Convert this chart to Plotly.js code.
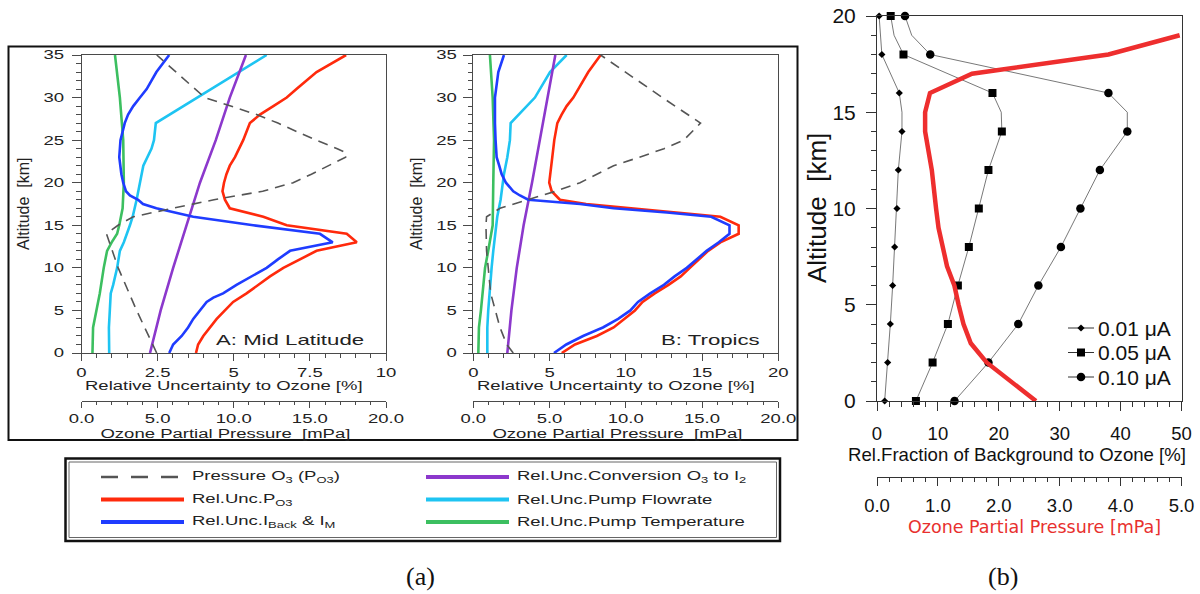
<!DOCTYPE html>
<html>
<head>
<meta charset="utf-8">
<script src="https://cdn.plot.ly/plotly-3.0.1.min.js"></script>
<style>
  html, body { margin: 0; padding: 0; background: #fff; }
  #chart { width: 1200px; height: 594px; }
</style>
</head>
<body>
<div id="chart"></div>
<script>
// ---------- Panel A: Mid Latitude ----------
const midPressureAlt = [0, 5, 10, 13, 14, 15, 16, 17, 18, 19, 20, 21, 22, 23, 23.5, 24, 25, 27, 28, 30, 35];
const midPressure    = [4.94, 3.62, 2.41, 1.86, 1.64, 2.4, 3.4, 6.0, 8.7, 11.9, 13.9, 15.1, 16.2, 17.35, 17.4, 16.8, 15.4, 12.9, 11.5, 8.1, 4.94]; // mPa

const midPo3Alt = [0, 1, 2, 3, 4, 5, 6, 7, 8, 9, 10, 11, 12, 13, 14, 15, 16, 17, 17.3, 18, 19, 20, 21, 22, 23, 25, 27, 28, 29, 30, 31, 33, 35];
const midPo3    = [3.76, 3.83, 4.0, 4.22, 4.44, 4.71, 4.98, 5.42, 5.8, 6.19, 6.63, 7.17, 7.72, 9.04, 8.71, 6.74, 5.97, 4.87, 4.82, 4.71, 4.63, 4.68, 4.76, 4.87, 5.04, 5.31, 5.53, 5.86, 6.3, 6.74, 7.06, 7.72, 8.69];

const midBackAlt = [0, 1, 2, 3, 4, 5, 6, 6.5, 7, 8, 9, 10, 11, 12, 13, 14, 15, 16, 17, 17.5, 18, 18.5, 19, 20, 21, 23, 25, 27, 28, 29, 30, 31, 33, 35];
const midBack    = [2.88, 3.01, 3.29, 3.5, 3.67, 3.89, 4.11, 4.33, 4.65, 5.09, 5.59, 6.08, 6.45, 6.85, 8.25, 7.83, 5.64, 3.67, 2.46, 2.02, 1.86, 1.59, 1.46, 1.37, 1.31, 1.24, 1.28, 1.42, 1.53, 1.7, 1.92, 2.14, 2.46, 2.88];

const midConvAlt = [0, 5, 10, 15, 20, 25, 30, 35];
const midConv    = [2.25, 2.6, 3.01, 3.45, 3.89, 4.41, 4.87, 5.40];

const midFlowAlt = [0, 3, 5, 7, 8, 10, 12, 13, 15, 16, 18, 20, 22, 24, 25, 27, 35];
const midFlow    = [0.91, 0.9, 0.93, 0.96, 1.04, 1.17, 1.26, 1.39, 1.59, 1.68, 1.81, 1.92, 2.03, 2.3, 2.38, 2.44, 6.08];

const midTempAlt = [0, 3, 5, 7, 10, 12, 13, 14, 15, 17, 20, 25, 30, 35];
const midTemp    = [0.36, 0.38, 0.49, 0.6, 0.73, 0.84, 0.99, 1.17, 1.24, 1.35, 1.39, 1.37, 1.26, 1.10];

// ---------- Panel B: Tropics ----------
const tropPressureAlt = [0, 1, 3, 5, 7, 10, 12, 15, 16, 17, 18, 19, 20, 22, 23, 24, 25, 27, 30, 35];
const tropPressure    = [2.62, 2.19, 1.75, 1.42, 1.14, 0.98, 0.87, 0.83, 0.87, 1.75, 3.6, 5.4, 7.0, 9.2, 10.9, 12.5, 13.8, 14.9, 12.4, 8.35]; // mPa

const tropPo3Alt = [0, 1, 2, 3, 4, 5, 6, 7, 8, 9, 10, 12, 13, 14, 15, 16, 16.5, 17, 17.5, 18, 18.2, 19, 20, 21, 23, 25, 27, 28, 29, 30, 31, 33, 35];
const tropPo3    = [5.8, 6.67, 8.1, 9.2, 9.9, 10.6, 11.1, 11.9, 12.8, 13.6, 14.2, 15.4, 16.2, 17.4, 17.4, 16.2, 13.3, 10.1, 7.4, 5.68, 5.57, 5.14, 4.98, 5.03, 5.18, 5.31, 5.51, 5.79, 6.12, 6.56, 6.89, 7.54, 8.35];

const tropBackAlt = [0, 1, 2, 3, 4, 5, 6, 7, 8, 9, 10, 12, 13, 14, 15, 16, 16.5, 17, 17.5, 18, 18.5, 19, 20, 21, 22, 23, 25, 27, 30, 31, 33, 35];
const tropBack    = [5.29, 6.1, 7.2, 8.5, 9.5, 10.3, 10.8, 11.6, 12.5, 13.2, 14.0, 15.3, 16.1, 16.8, 16.8, 15.6, 12.7, 9.2, 7.0, 3.6, 3.06, 2.62, 2.14, 1.86, 1.7, 1.53, 1.46, 1.42, 1.42, 1.49, 1.64, 2.01];

const tropConvAlt = [0, 5, 10, 15, 20, 25, 30, 35];
const tropConv    = [2.23, 2.5, 2.85, 3.3, 3.85, 4.35, 4.85, 5.38];

const tropFlowAlt = [0, 3, 5, 7, 10, 12, 15, 16, 18, 20, 21, 23, 25, 27, 30, 33, 35];
const tropFlow    = [0.92, 0.92, 0.98, 1.05, 1.2, 1.31, 1.49, 1.57, 1.79, 1.92, 2.01, 2.23, 2.4, 2.45, 4.04, 5.03, 6.12];

const tropTempAlt = [0, 3, 5, 10, 12, 15, 20, 25, 30, 35];
const tropTemp    = [0.33, 0.37, 0.5, 0.77, 0.98, 1.27, 1.31, 1.36, 1.27, 1.09];

// ---------- Panel (b): background current fraction ----------
const bgAlt01 = [0, 2, 4, 6, 8, 10, 12, 14, 15, 16, 18, 20];
const bg01    = [1.26, 1.75, 2.19, 2.57, 2.9, 3.28, 3.5, 4.1, 4.1, 3.66, 0.8, 0.35];
const bgAlt05 = [0, 2, 4, 6, 8, 10, 12, 14, 15, 16, 18, 19, 20];
const bg05    = [6.39, 9.13, 11.64, 13.28, 15.08, 16.72, 18.3, 20.5, 20.4, 18.96, 4.35, 2.8, 2.25];
const bgAlt10 = [0, 2, 4, 6, 8, 10, 12, 14, 15, 16, 18, 19, 20];
const bg10    = [12.73, 18.3, 23.2, 26.5, 30.2, 33.4, 36.6, 41.1, 41.1, 38.0, 8.74, 5.7, 4.6];
const bgLabels = ['0.01 μA', '0.05 μA', '0.10 μA'];

const ozoneAlt = [0, 1, 2, 3, 4, 5, 6, 7, 8, 9, 10, 12, 14, 15, 16, 17, 18, 19];
const ozone    = [2.61, 2.2, 1.80, 1.54, 1.42, 1.34, 1.27, 1.15, 1.08, 1.01, 0.97, 0.90, 0.79, 0.79, 0.87, 1.56, 3.80, 4.97]; // mPa

// ---------- styling ----------
const W = 1200, H = 594;
const px = x => x / W;
const py = y => 1 - y / H;
const FA = 'Liberation Sans, Arial, sans-serif';
const FR = 'DejaVu Sans, Verdana, sans-serif';
const FS = 'Liberation Serif, Times New Roman, serif';
const WIDEN = 1.48;   // horizontal stretch of the left figure's lettering

const C = {
  pressure: '#555555',
  po3: '#ff2a0c',
  back: '#1f3cff',
  conv: '#8c38cc',
  flow: '#1ec4f2',
  temp: '#3cbf60'
};

const names = {
  pressure: 'Pressure O<sub>3</sub> (P<sub>O3</sub>)',
  po3: 'Rel.Unc.P<sub>O3</sub>',
  back: 'Rel.Unc.I<sub>Back</sub> &amp; I<sub>M</sub>',
  conv: 'Rel.Unc.Conversion O<sub>3</sub> to I<sub>2</sub>',
  flow: 'Rel.Unc.Pump Flowrate',
  temp: 'Rel.Unc.Pump Temperature'
};

function curve(x, y, xa, ya, key) {
  const dashed = key === 'pressure';
  return {
    type: 'scatter', mode: 'lines', x: x, y: y, xaxis: xa, yaxis: ya,
    name: names[key], showlegend: false, hoverinfo: 'skip',
    line: { color: C[key], width: dashed ? 1.6 : 2.6, dash: dashed ? '10px,7px' : 'solid' }
  };
}

const traces = [
  curve(midTemp, midTempAlt, 'x', 'y', 'temp'),
  curve(midFlow, midFlowAlt, 'x', 'y', 'flow'),
  curve(midConv, midConvAlt, 'x', 'y', 'conv'),
  curve(midBack, midBackAlt, 'x', 'y', 'back'),
  curve(midPo3, midPo3Alt, 'x', 'y', 'po3'),
  curve(midPressure, midPressureAlt, 'x2', 'y', 'pressure'),

  curve(tropTemp, tropTempAlt, 'x3', 'y2', 'temp'),
  curve(tropFlow, tropFlowAlt, 'x3', 'y2', 'flow'),
  curve(tropConv, tropConvAlt, 'x3', 'y2', 'conv'),
  curve(tropPo3, tropPo3Alt, 'x3', 'y2', 'po3'),
  curve(tropBack, tropBackAlt, 'x3', 'y2', 'back'),
  curve(tropPressure, tropPressureAlt, 'x4', 'y2', 'pressure')
];

// background series: markers only on the even-kilometre levels
const bgSeries = [
  { x: bg01, y: bgAlt01, symbol: 'diamond', size: 5.5 },
  { x: bg05, y: bgAlt05, symbol: 'square', size: 8 },
  { x: bg10, y: bgAlt10, symbol: 'circle', size: 8.5 }
];
bgSeries.forEach((s, i) => {
  traces.push({
    type: 'scatter', mode: 'lines+markers', x: s.x, y: s.y, xaxis: 'x5', yaxis: 'y3',
    name: bgLabels[i], showlegend: false, hoverinfo: 'skip', cliponaxis: false,
    line: { color: '#555', width: 0.8 },
    marker: {
      symbol: s.symbol, size: s.size,
      color: s.y.map(a => (a % 2 === 0 ? '#000' : 'rgba(0,0,0,0)'))
    }
  });
});
traces.push({
  type: 'scatter', mode: 'lines', x: ozone, y: ozoneAlt, xaxis: 'x6', yaxis: 'y3',
  name: 'Ozone Partial Pressure', showlegend: false, hoverinfo: 'skip',
  line: { color: '#ee2e2e', width: 4.5 }
});

// ---------- axes ----------
function axis(opts) {
  return Object.assign({
    showline: true, linecolor: '#4a4a4a', linewidth: 1,
    ticks: 'outside', tickcolor: '#4a4a4a', tickwidth: 1,
    showgrid: false, zeroline: false, fixedrange: true, automargin: false
  }, opts);
}
const tickA = { family: FA, size: 12.5, color: '#222' };
const yDomAB = [py(353), py(55)];

const layout = {
  width: W, height: H,
  margin: { l: 0, r: 0, t: 0, b: 0 },
  paper_bgcolor: '#fff', plot_bgcolor: 'rgba(0,0,0,0)',
  showlegend: false,

  xaxis: axis({ domain: [px(81.5), px(386)], anchor: 'y', range: [0, 10], dtick: 2.5, tick0: 0,
    ticklen: 7, mirror: true, tickfont: tickA, ticklabelstandoff: 1,
    minor: { dtick: 0.5, ticklen: 3.5, ticks: 'outside', tickcolor: '#4a4a4a' } }),
  xaxis2: axis({ overlaying: 'x', anchor: 'free', position: py(401), side: 'bottom', range: [0, 20],
    dtick: 5, tick0: 0, tickformat: '.1f', ticklen: 6, tickfont: tickA, ticklabelstandoff: 0,
    minor: { dtick: 1, ticklen: 3, ticks: 'outside', tickcolor: '#4a4a4a' } }),
  yaxis: axis({ domain: yDomAB, anchor: 'x', range: [0, 35], dtick: 5, tick0: 0, ticklen: 9,
    mirror: true, tickfont: tickA, ticklabelstandoff: 5,
    minor: { dtick: 1, ticklen: 4.5, ticks: 'outside', tickcolor: '#4a4a4a' } }),

  xaxis3: axis({ domain: [px(473.3), px(778.3)], anchor: 'y2', range: [0, 20], dtick: 5, tick0: 0,
    ticklen: 7, mirror: true, tickfont: tickA, ticklabelstandoff: 1,
    minor: { dtick: 1, ticklen: 3.5, ticks: 'outside', tickcolor: '#4a4a4a' } }),
  xaxis4: axis({ overlaying: 'x3', anchor: 'free', position: py(401), side: 'bottom', range: [0, 20],
    dtick: 5, tick0: 0, tickformat: '.1f', ticklen: 6, tickfont: tickA, ticklabelstandoff: 0,
    minor: { dtick: 1, ticklen: 3, ticks: 'outside', tickcolor: '#4a4a4a' } }),
  yaxis2: axis({ domain: yDomAB, anchor: 'x3', range: [0, 35], dtick: 5, tick0: 0, ticklen: 9,
    mirror: true, tickfont: tickA, ticklabelstandoff: 4,
    minor: { dtick: 1, ticklen: 4.5, ticks: 'outside', tickcolor: '#4a4a4a' } }),

  xaxis5: axis({ domain: [px(877), px(1181.5)], anchor: 'y3', range: [0, 50], dtick: 10, tick0: 0,
    ticklen: 9, mirror: true, linecolor: '#333', tickcolor: '#333',
    tickfont: { family: FA, size: 18.5, color: '#111' }, ticklabelstandoff: 7,
    minor: { dtick: 2, ticklen: 4.5, ticks: 'outside', tickcolor: '#333' } }),
  xaxis6: axis({ overlaying: 'x5', anchor: 'free', position: py(477), side: 'bottom', range: [0, 5],
    dtick: 1, tick0: 0, tickformat: '.1f', ticklen: 8, linecolor: '#333', tickcolor: '#333',
    tickfont: { family: FA, size: 18.5, color: '#111' }, ticklabelstandoff: 4,
    minor: { dtick: 0.2, ticklen: 4, ticks: 'outside', tickcolor: '#333' } }),
  yaxis3: axis({ domain: [py(401), py(16)], anchor: 'x5', range: [0, 20], dtick: 5, tick0: 0,
    ticklen: 10, mirror: true, linecolor: '#333', tickcolor: '#333',
    tickfont: { family: FA, size: 21, color: '#111' }, ticklabelstandoff: 6,
    minor: { dtick: 1, ticklen: 5, ticks: 'outside', tickcolor: '#333' } }),

  annotations: [],
  shapes: []
};

function label(text, x, y, font, extra) {
  layout.annotations.push(Object.assign({
    text: text, xref: 'paper', yref: 'paper', x: px(x), y: py(y),
    xanchor: 'center', yanchor: 'middle', showarrow: false, font: font
  }, extra || {}));
}

// axis titles, left figure
const titleA = { family: FA, size: 12.5, color: '#222' };
label('Relative Uncertainty to Ozone [%]', 224, 386, titleA);
label('Ozone Partial Pressure  [mPa]', 225, 434, titleA);
label('Relative Uncertainty to Ozone [%]', 616, 386, titleA);
label('Ozone Partial Pressure  [mPa]', 617, 434, titleA);
label('Altitude  [km]', 23, 204, { family: FA, size: 16, color: '#222' }, { textangle: -90 });
label('Altitude  [km]', 416, 204, { family: FA, size: 16, color: '#222' }, { textangle: -90 });
label('A: Mid Latitude', 290, 339, { family: FA, size: 15, color: '#222' });
label('B: Tropics', 710, 339, { family: FA, size: 15, color: '#222' });

// axis titles, right figure
label('Altitude  [km]', 817, 208, { family: FA, size: 26, color: '#111' }, { textangle: -90 });
label('Rel.Fraction of Background to Ozone [%]', 1017, 454, { family: FA, size: 18.6, color: '#111' });
label('Ozone Partial Pressure [mPa]', 1034, 527, { family: FR, size: 17.5, color: '#e8302e' });

// sub-figure captions
label('(a)', 420, 576, { family: FS, size: 26, color: '#111' });
label('(b)', 1003, 576, { family: FS, size: 26, color: '#111' });

// frame around the left figure
layout.shapes.push({ type: 'rect', xref: 'paper', yref: 'paper',
  x0: px(8.5), x1: px(797.5), y0: py(440), y1: py(46.5), line: { color: '#111', width: 2 } });

// legend of the left figure (two columns, double frame)
layout.shapes.push({ type: 'rect', xref: 'paper', yref: 'paper',
  x0: px(65.5), x1: px(780), y0: py(541), y1: py(458.5), line: { color: '#111', width: 2.5 } });
layout.shapes.push({ type: 'rect', xref: 'paper', yref: 'paper',
  x0: px(69), x1: px(776.5), y0: py(537.5), y1: py(462), line: { color: '#666', width: 1 } });

const legendOrder = [['pressure', 'po3', 'back'], ['conv', 'flow', 'temp']];
const legCols = [{ x0: 101, x1: 184, tx: 190 }, { x0: 426, x1: 509, tx: 515 }];
const legRows = [477, 499.5, 522];
legendOrder.forEach((col, ci) => {
  col.forEach((key, ri) => {
    const c = legCols[ci], yy = legRows[ri];
    const dashed = key === 'pressure';
    layout.shapes.push({ type: 'line', xref: 'paper', yref: 'paper',
      x0: px(c.x0), x1: px(c.x1), y0: py(yy), y1: py(yy),
      line: { color: C[key], width: dashed ? 2.6 : 4, dash: dashed ? '17px,13px' : 'solid' } });
    label(names[key], c.tx, yy, { family: FA, size: 12.5, color: '#222' },
      { xanchor: 'left', align: 'left' });
  });
});

// legend of the right figure
const bgRows = [328, 352.5, 377];
bgRows.forEach((yy, i) => {
  const cx = 1081;
  layout.shapes.push({ type: 'line', xref: 'paper', yref: 'paper',
    x0: px(1068), x1: px(1094), y0: py(yy), y1: py(yy), line: { color: '#333', width: 1 } });
  const s = bgSeries[i];
  if (s.symbol === 'diamond') {
    const r = 3.6;
    layout.shapes.push({ type: 'path', xref: 'paper', yref: 'paper',
      path: `M${px(cx)},${py(yy - r)} L${px(cx + r)},${py(yy)} L${px(cx)},${py(yy + r)} L${px(cx - r)},${py(yy)} Z`,
      fillcolor: '#000', line: { width: 0 } });
  } else if (s.symbol === 'square') {
    layout.shapes.push({ type: 'rect', xref: 'paper', yref: 'paper',
      x0: px(cx - 4), x1: px(cx + 4), y0: py(yy + 4), y1: py(yy - 4), fillcolor: '#000', line: { width: 0 } });
  } else {
    layout.shapes.push({ type: 'circle', xref: 'paper', yref: 'paper',
      x0: px(cx - 4.3), x1: px(cx + 4.3), y0: py(yy + 4.3), y1: py(yy - 4.3), fillcolor: '#000', line: { width: 0 } });
  }
  label(bgLabels[i], 1096, yy, { family: FA, size: 21, color: '#111' }, { xanchor: 'left', align: 'left' });
});

// the left figure's lettering is set wide: stretch its horizontal texts
function isTurned(el) {
  const g = el.closest('[transform*="rotate"]');
  if (!g) return false;
  const m = /rotate\(\s*(-?[\d.]+)/.exec(g.getAttribute('transform'));
  return m && Math.abs(parseFloat(m[1])) > 0.5;
}
function widen() {
  const gd = document.getElementById('chart');
  gd.querySelectorAll('text').forEach(t => {
    if (isTurned(t)) return;
    t.removeAttribute('textLength');
    t.removeAttribute('lengthAdjust');
    const r = t.getBoundingClientRect();
    if (!r.width || r.right > 805 || r.bottom > 548) return;
    const w = t.getComputedTextLength();
    if (!w) return;
    t.setAttribute('lengthAdjust', 'spacingAndGlyphs');
    t.setAttribute('textLength', (w * WIDEN).toFixed(1));
  });
}

const gdiv = document.getElementById('chart');
Plotly.newPlot(gdiv, traces, layout, { displayModeBar: false, staticPlot: true })
  .then(() => {
    widen();
    gdiv.on('plotly_afterplot', widen);
    setTimeout(widen, 50);
    setTimeout(widen, 400);
  });
</script>
</body>
</html>
